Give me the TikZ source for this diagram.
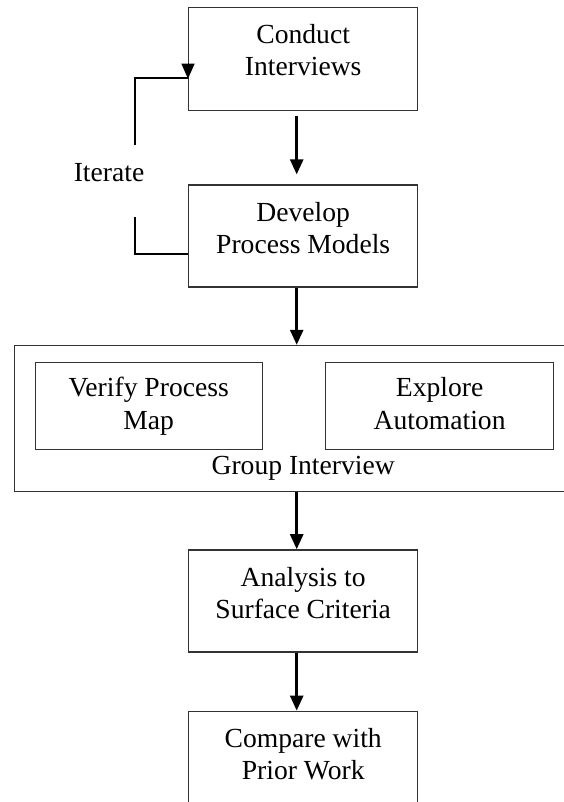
\documentclass[tikz,border=0pt]{standalone}
\usepackage{fontspec}
\setmainfont{Liberation Serif}
\usetikzlibrary{positioning, arrows.meta}

\begin{document}
\begin{tikzpicture}[x=1pt, y=1pt,
    >={Triangle[width=13pt, length=15pt]},
    font=\fontsize{27.6}{32.5}\selectfont,
    stepbox/.style={draw=black!80, line width=1.4pt, inner sep=0pt},
    flow/.style={->, line width=2.6pt},
    loopline/.style={line width=2.2pt}]
    \useasboundingbox (0,0) rectangle (563,-802);

    \node [stepbox,
        anchor=north west
    ] (conduct) at (188,-7) {
        \begin{minipage}[c][103pt][t]{229pt}\centering
            \vspace*{16.5pt}Conduct\\
            Interviews
        \end{minipage}
    };

    \node [stepbox,
        below=73pt of conduct
    ] (develop) {
        \begin{minipage}[c][102pt][t]{229pt}\centering
            \vspace*{17pt}Develop\\
            Process Models
        \end{minipage}
    };

    \node [stepbox,
        below=57pt of develop
    ] (group) {
        \begin{minipage}[c][146pt][t]{578pt}\centering
            \vspace*{111pt}Group Interview
        \end{minipage}
    };

    \node [stepbox,
        below right=17pt and 21pt of group.north west
    ] (verify) {
        \begin{minipage}[c][87pt][t]{227pt}\centering
            \vspace*{15pt}Verify Process\\
            Map
        \end{minipage}
    };

    \node [stepbox,
        right=62pt of verify
    ] (explore) {
        \begin{minipage}[c][87pt][t]{228pt}\centering
            \vspace*{15pt}Explore\\
            Automation
        \end{minipage}
    };

    \node [stepbox,
        below=57pt of group
    ] (analysis) {
        \begin{minipage}[c][102pt][t]{229pt}\centering
            \vspace*{17pt}Analysis to\\
            Surface Criteria
        \end{minipage}
    };

    \node [stepbox,
        below=58pt of analysis
    ] (compare) {
        \begin{minipage}[c][102pt][t]{229pt}\centering
            \vspace*{17pt}Compare with\\
            Prior Work
        \end{minipage}
    };

    \node (iterate) at (109,-173) {Iterate};
    \coordinate (looplo) at (135,-217);
    \coordinate (loophi) at (135,-145);

    % main flow
    \draw[flow, shorten <=5pt, shorten >=10pt] ([xshift=-6.5pt]conduct.south) -- ([xshift=-6.5pt]develop.north);
    \draw[flow] ([xshift=-6.5pt]develop.south) -- ([xshift=-6.5pt]group.north);
    \draw[flow] ([xshift=-6.5pt]group.south) -- ([xshift=-6.5pt]analysis.north);
    \draw[flow] ([xshift=-6.5pt]analysis.south) -- ([xshift=-6.5pt]compare.north);

    % iterate loop
    \draw[loopline] ([yshift=-18pt]develop.west) -| (looplo);
    \draw[loopline] (loophi) |- ([yshift=-19pt]conduct.west);
    \draw[->, line width=1pt] ([yshift=-4pt]conduct.west) -- ([yshift=-19.5pt]conduct.west);
\end{tikzpicture}
\end{document}
